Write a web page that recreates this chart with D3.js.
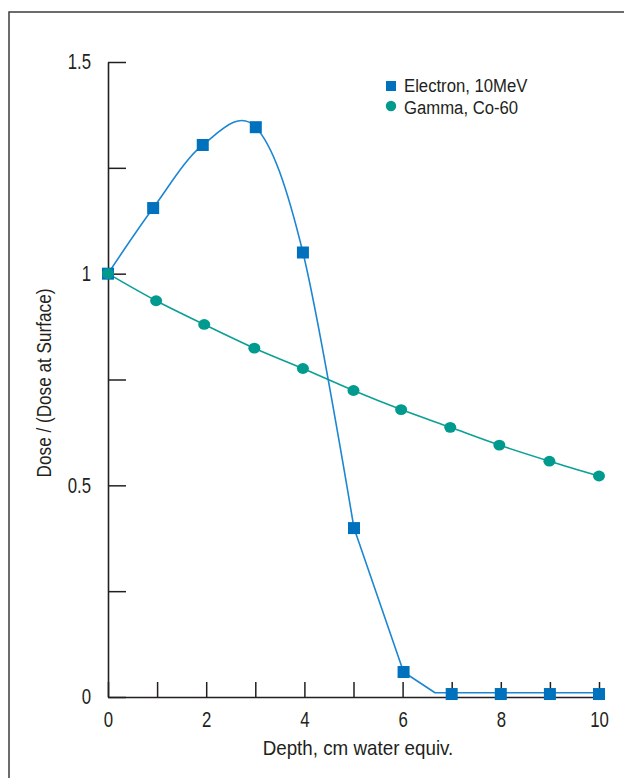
<!DOCTYPE html>
<html>
<head>
<meta charset="utf-8">
<script src="https://cdn.jsdelivr.net/npm/d3@7"></script>
<style>
  html, body { margin: 0; padding: 0; background: #fff; }
  svg { display: block; }
  text { font-family: "Liberation Sans", Arial, sans-serif; fill: #231f20; }
</style>
</head>
<body>
<svg id="chart" width="624" height="778"></svg>
<script>
// ---- data ----
const electronDepth = [0, 0.92, 1.93, 3.01, 3.97, 5.01, 6.02, 7, 8, 9, 10];
const electronDose  = [1.0, 1.155, 1.304, 1.346, 1.050, 0.399, 0.059, 0.007, 0.007, 0.007, 0.007];
// smooth curve through the first 6 points; then straight segments
const electronTailDepth = [5.01, 6.02, 6.66, 10];
const electronTailDose  = [0.399, 0.059, 0.010, 0.010];

const gammaDepth = [0, 0.98, 1.96, 2.98, 3.97, 5.0, 5.97, 6.97, 7.97, 8.99, 10];
const gammaDose  = [1.0, 0.936, 0.880, 0.824, 0.776, 0.724, 0.679, 0.637, 0.595, 0.557, 0.522];

const xTickValues = [0, 1, 2, 3, 4, 5, 6, 7, 8, 9, 10];
const xTickLabels = ["0", "", "2", "", "4", "", "6", "", "8", "", "10"];
const yTickValues = [0, 0.25, 0.5, 0.75, 1, 1.25, 1.5];
const yTickLabels = ["0", "", "0.5", "", "1", "", "1.5"];

const seriesNames = ["Electron, 10MeV", "Gamma, Co-60"];
const xTitle = "Depth, cm water equiv.";
const yTitle = "Dose / (Dose at Surface)";

// ---- styles ----
const electronMarker = "#0071bc";
const electronLine = "#1d86d3";
const gammaMarker = "#009a8e";
const gammaLine = "#0aa095";

function condense(sel, k) {
  sel.each(function () {
    const t = d3.select(this);
    const x0 = +t.attr("x") || 0;
    const prev = t.attr("transform") || "";
    t.attr("x", x0 / k).attr("transform", (prev + ` scale(${k},1)`).trim());
  });
}

const svg = d3.select("#chart");

// frame
svg.append("rect")
  .attr("x", 9).attr("y", 12).attr("width", 700).attr("height", 800)
  .attr("fill", "none").attr("stroke", "#3d3d3d").attr("stroke-width", 1.5);

const x = d3.scaleLinear().domain([0, 10]).range([108, 599]);
const y = d3.scaleLinear().domain([0, 1.5]).range([697, 62]);

// axes
const xAxis = d3.axisBottom(x)
  .tickValues(xTickValues)
  .tickFormat((d, i) => xTickLabels[i])
  .tickSizeInner(-15).tickSizeOuter(0).tickPadding(15);
const yAxis = d3.axisLeft(y)
  .tickValues(yTickValues)
  .tickFormat((d, i) => yTickLabels[i])
  .tickSizeInner(-18).tickSizeOuter(0).tickPadding(17);

const gx = svg.append("g").attr("transform", `translate(0,${y(0)})`).call(xAxis);
const gy = svg.append("g").attr("transform", `translate(${x(0)},0)`).call(yAxis);
[gx, gy].forEach(g => {
  g.selectAll("path.domain").attr("stroke", "#231f20").attr("stroke-width", 1.6);
  g.selectAll(".tick line").attr("stroke", "#231f20").attr("stroke-width", 1.5);
  g.selectAll(".tick text").attr("font-size", 21.5).attr("fill", "#231f20")
    .style("font-family", '"Liberation Sans", Arial, sans-serif');
  condense(g.selectAll(".tick text"), 0.78);
});

// axis titles
svg.append("text")
  .attr("x", 358).attr("y", 755)
  .attr("text-anchor", "middle").attr("font-size", 20)
  .text(xTitle).call(condense, 0.94);
svg.append("text")
  .attr("transform", `translate(51,383) rotate(-90)`)
  .attr("text-anchor", "middle").attr("font-size", 19.5)
  .text(yTitle).call(condense, 0.88);

// lines
const eSmooth = electronDepth.slice(0, 6).map((d, i) => [d, electronDose[i]]);
const eTail = electronTailDepth.map((d, i) => [d, electronTailDose[i]]);
const gPts = gammaDepth.map((d, i) => [d, gammaDose[i]]);

const smoothLine = d3.line().x(d => x(d[0])).y(d => y(d[1])).curve(d3.curveCatmullRom.alpha(0));
const gammaCurve = d3.line().x(d => x(d[0])).y(d => y(d[1])).curve(d3.curveCatmullRom);
const straightLine = d3.line().x(d => x(d[0])).y(d => y(d[1]));

svg.append("path").attr("d", gammaCurve(gPts))
  .attr("fill", "none").attr("stroke", gammaLine).attr("stroke-width", 1.6);
svg.append("path").attr("d", smoothLine(eSmooth))
  .attr("fill", "none").attr("stroke", electronLine).attr("stroke-width", 1.6);
svg.append("path").attr("d", straightLine(eTail))
  .attr("fill", "none").attr("stroke", electronLine).attr("stroke-width", 1.6)
  .attr("stroke-linejoin", "round");

// markers
const sq = 12;
svg.append("g").selectAll("rect")
  .data(electronDepth.map((d, i) => [d, electronDose[i]]))
  .join("rect")
  .attr("x", d => x(d[0]) - sq / 2).attr("y", d => y(d[1]) - sq / 2)
  .attr("width", sq).attr("height", sq)
  .attr("fill", electronMarker);

svg.append("g").selectAll("ellipse")
  .data(gPts)
  .join("ellipse")
  .attr("cx", d => x(d[0])).attr("cy", d => y(d[1]))
  .attr("rx", 6).attr("ry", 5.4)
  .attr("fill", gammaMarker);

// legend
const lg = svg.append("g");
lg.append("rect").attr("x", 386).attr("y", 81).attr("width", 10).attr("height", 10)
  .attr("fill", electronMarker);
lg.append("text").attr("x", 404).attr("y", 92).attr("font-size", 19).text(seriesNames[0]).call(condense, 0.88);
lg.append("circle").attr("cx", 391).attr("cy", 106).attr("r", 5.2).attr("fill", gammaMarker);
lg.append("text").attr("x", 404).attr("y", 114).attr("font-size", 19).text(seriesNames[1]).call(condense, 0.88);
</script>
</body>
</html>
